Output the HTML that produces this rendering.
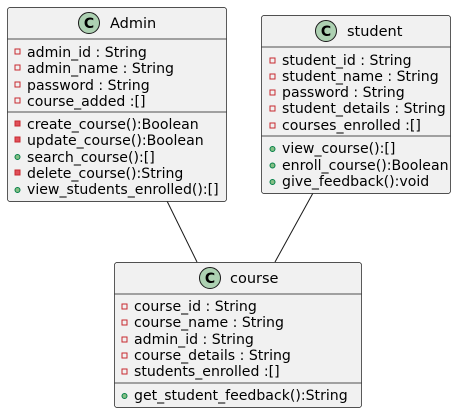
<!DOCTYPE html>
<html><head><style>body{margin:0;background:#fff}svg{display:block}text{font-family:"DejaVu Sans",sans-serif;font-size:14.1px;fill:#000}</style></head><body>
<svg width="461" height="413" xmlns="http://www.w3.org/2000/svg">
<g stroke="#181818" fill="none" stroke-width="1">
<line x1="167" y1="201" x2="197" y2="262"/>
<line x1="313" y1="193" x2="275" y2="262"/>
</g>
<!-- Admin -->
<rect x="7.5" y="7.5" width="219" height="194" rx="2.5" fill="#F1F1F1" stroke="#181818" stroke-width="0.7"/>
<line x1="7.5" y1="39" x2="226.5" y2="39" stroke="#181818" stroke-width="0.7"/>
<line x1="7.5" y1="112" x2="226.5" y2="112" stroke="#181818" stroke-width="0.7"/>
<circle cx="89" cy="23" r="10.5" fill="#ADD1B2" stroke="#181818"/>
<text x="89" y="28" text-anchor="middle" font-weight="bold" style="font-size:14px">C</text>
<text x="110" y="28" style="font-size:14.5px">Admin</text>
<g fill="none" stroke="#C82930"><rect x="15" y="49" width="5" height="5"/><rect x="15" y="65" width="5" height="5"/><rect x="15" y="82" width="5" height="5"/><rect x="15" y="98" width="5" height="5"/></g>
<text x="27" y="57">admin_id : String</text>
<text x="27" y="73">admin_name : String</text>
<text x="27" y="90">password : String</text>
<text x="27" y="106">course_added :[]</text>
<g fill="#E0505A" stroke="#C82930"><rect x="15" y="121" width="5" height="5"/><rect x="15" y="137" width="5" height="5"/><rect x="15" y="170" width="5" height="5"/></g>
<g fill="#84BE84" stroke="#038048"><circle cx="17.5" cy="157" r="2.5"/><circle cx="17.5" cy="190" r="2.5"/></g>
<text x="27" y="129">create_course():Boolean</text>
<text x="27" y="145">update_course():Boolean</text>
<text x="27" y="162">search_course():[]</text>
<text x="27" y="178">delete_course():String</text>
<text x="27" y="194">view_students_enrolled():[]</text>
<!-- student -->
<rect x="261.5" y="15.5" width="189" height="178" rx="2.5" fill="#F1F1F1" stroke="#181818" stroke-width="0.7"/>
<line x1="261.5" y1="47" x2="450.5" y2="47" stroke="#181818" stroke-width="0.7"/>
<line x1="261.5" y1="136" x2="450.5" y2="136" stroke="#181818" stroke-width="0.7"/>
<circle cx="326" cy="31" r="10.5" fill="#ADD1B2" stroke="#181818"/>
<text x="326" y="36" text-anchor="middle" font-weight="bold" style="font-size:14px">C</text>
<text x="347" y="36" style="font-size:14.5px">student</text>
<g fill="none" stroke="#C82930"><rect x="270" y="58" width="5" height="5"/><rect x="270" y="74" width="5" height="5"/><rect x="270" y="90" width="5" height="5"/><rect x="270" y="106" width="5" height="5"/><rect x="270" y="123" width="5" height="5"/></g>
<text x="282" y="65">student_id : String</text>
<text x="282" y="81">student_name : String</text>
<text x="282" y="97">password : String</text>
<text x="282" y="113">student_details : String</text>
<text x="282" y="130">courses_enrolled :[]</text>
<g fill="#84BE84" stroke="#038048"><circle cx="272.5" cy="149" r="2.5"/><circle cx="272.5" cy="165.5" r="2.5"/><circle cx="272.5" cy="182" r="2.5"/></g>
<text x="282" y="153">view_course():[]</text>
<text x="282" y="170">enroll_course():Boolean</text>
<text x="282" y="186">give_feedback():void</text>
<!-- course -->
<rect x="114.5" y="262.5" width="247" height="145" rx="2.5" fill="#F1F1F1" stroke="#181818" stroke-width="0.7"/>
<line x1="114.5" y1="294" x2="361.5" y2="294" stroke="#181818" stroke-width="0.7"/>
<line x1="114.5" y1="383" x2="361.5" y2="383" stroke="#181818" stroke-width="0.7"/>
<circle cx="210" cy="278" r="10.5" fill="#ADD1B2" stroke="#181818"/>
<text x="210" y="283" text-anchor="middle" font-weight="bold" style="font-size:14px">C</text>
<text x="230" y="283" style="font-size:14.5px">course</text>
<g fill="none" stroke="#C82930"><rect x="122" y="304" width="5" height="5"/><rect x="122" y="320" width="5" height="5"/><rect x="122" y="337" width="5" height="5"/><rect x="122" y="353" width="5" height="5"/><rect x="122" y="369" width="5" height="5"/></g>
<text x="134" y="311">course_id : String</text>
<text x="134" y="327">course_name : String</text>
<text x="134" y="344">admin_id : String</text>
<text x="134" y="360">course_details : String</text>
<text x="134" y="376">students_enrolled :[]</text>
<circle cx="124.5" cy="396" r="2.5" fill="#84BE84" stroke="#038048"/>
<text x="134" y="400">get_student_feedback():String</text>
</svg>
</body></html>
